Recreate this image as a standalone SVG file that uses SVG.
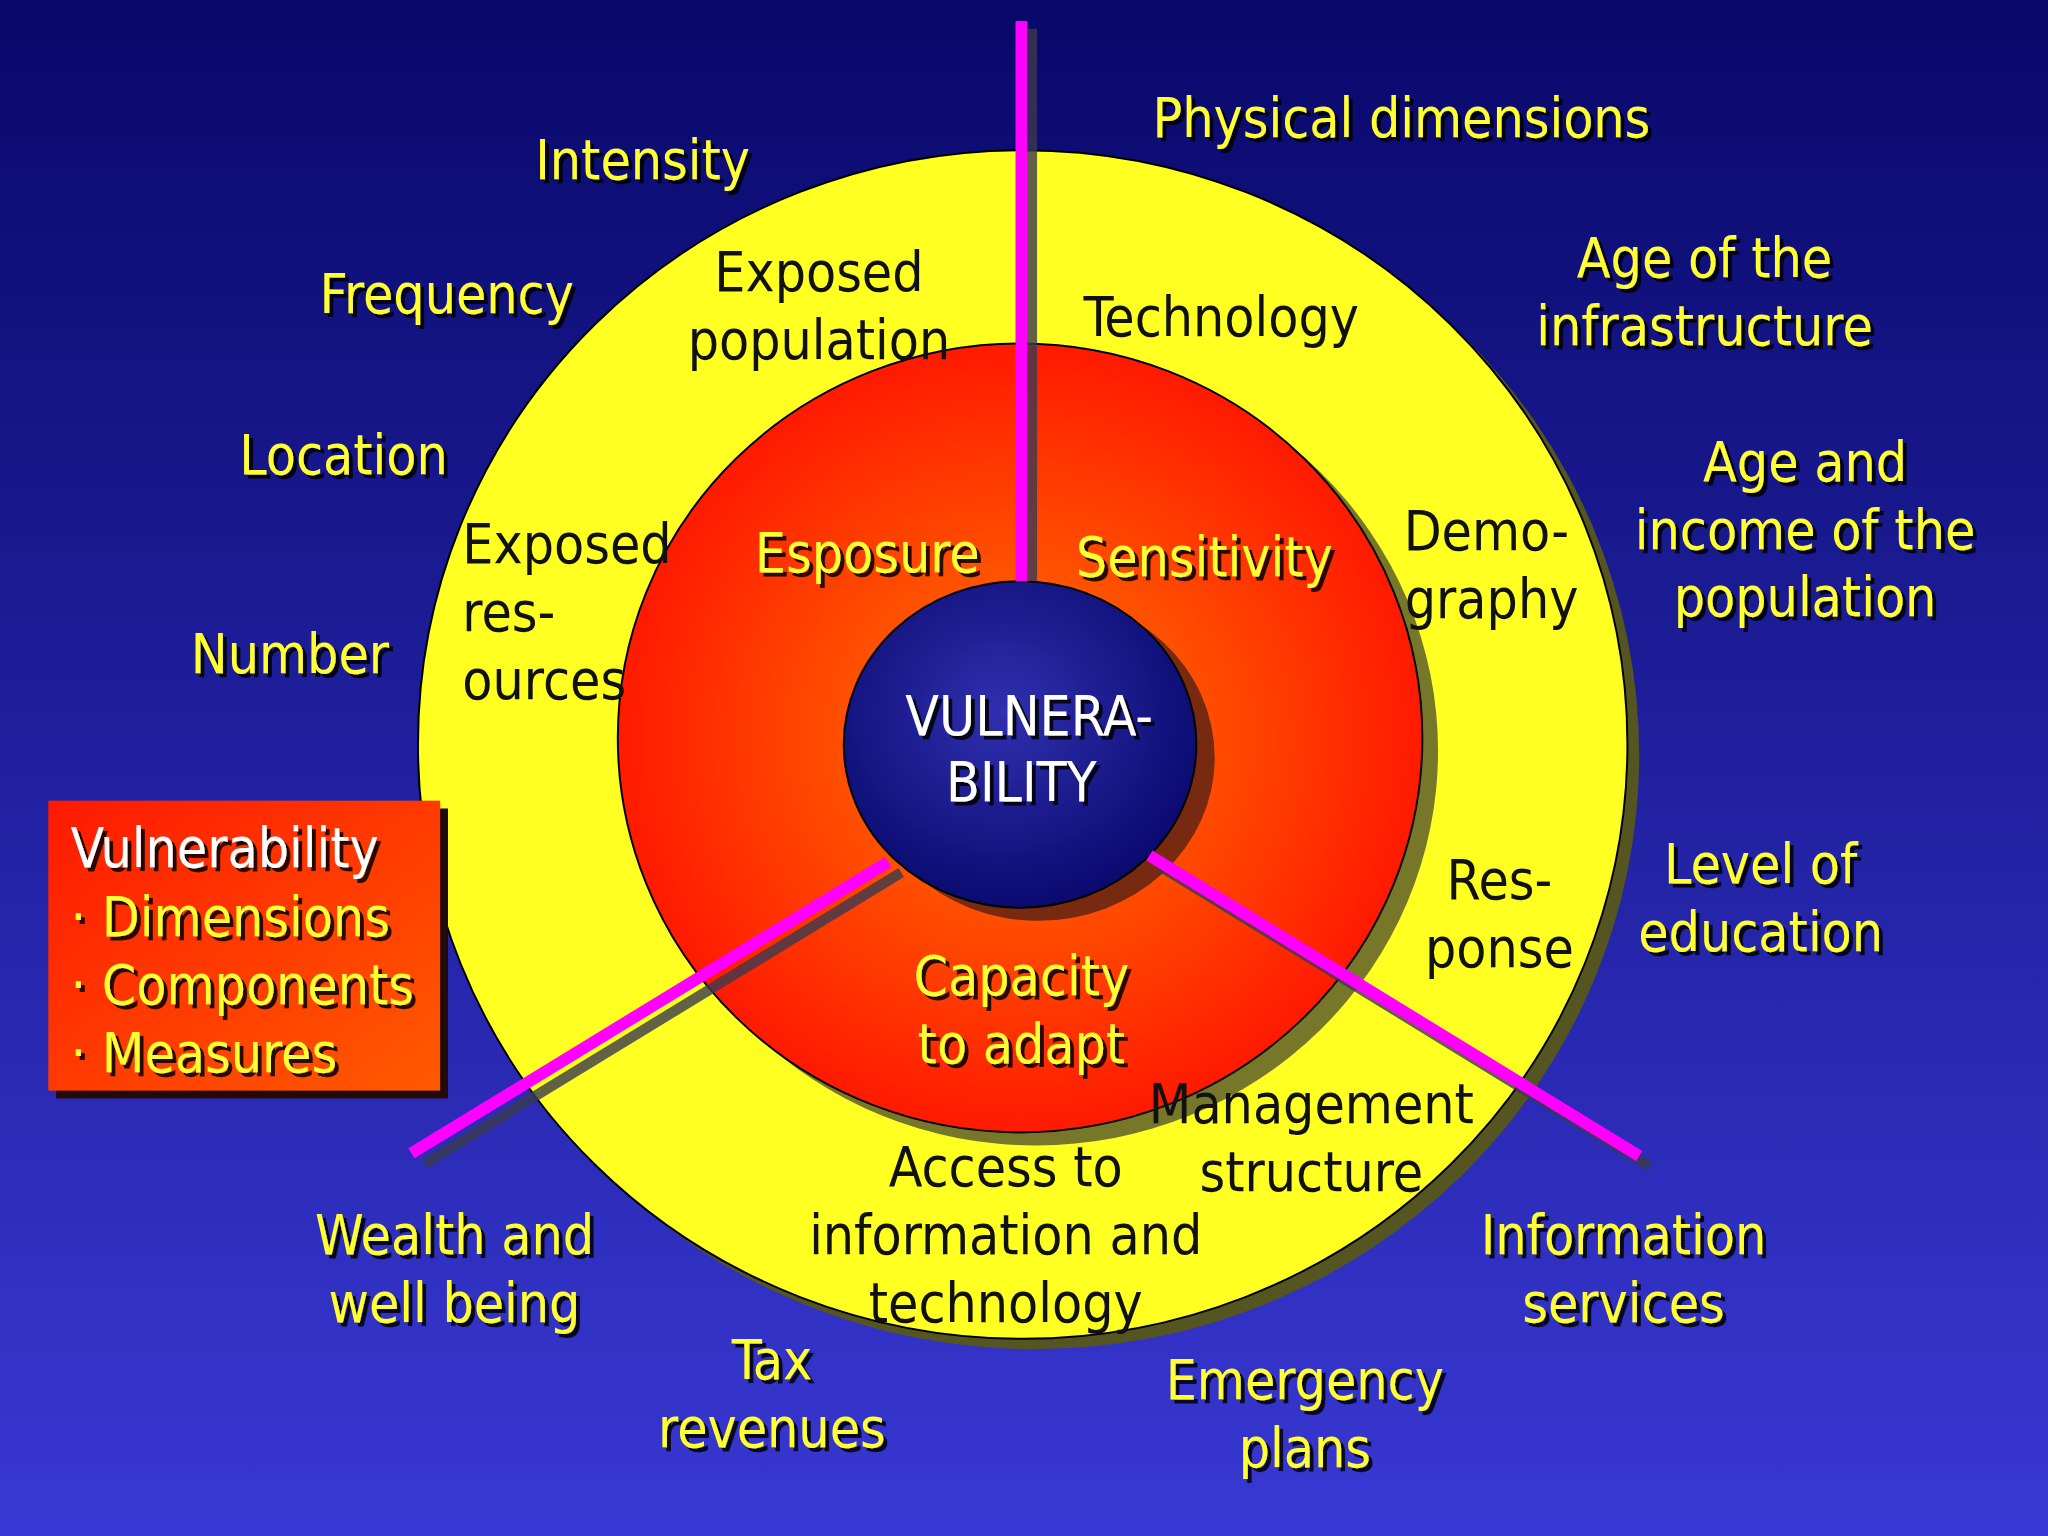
<svg xmlns="http://www.w3.org/2000/svg" width="2048" height="1536" viewBox="0 0 2048 1536">
<defs>
<linearGradient id="bg" x1="0" y1="0" x2="0" y2="1"><stop offset="0" stop-color="#08086a"/><stop offset="1" stop-color="#3838d4"/></linearGradient>
<radialGradient id="red" cx="0.5" cy="0.5" r="0.5"><stop offset="0" stop-color="#ff7a00"/><stop offset="1" stop-color="#ff1a00"/></radialGradient>
<radialGradient id="blue" cx="0.45" cy="0.4" r="0.6"><stop offset="0" stop-color="#3030b0"/><stop offset="1" stop-color="#0a0a70"/></radialGradient>
<linearGradient id="box" x1="0" y1="0" x2="1" y2="1"><stop offset="0" stop-color="#ff1a00"/><stop offset="1" stop-color="#ff5a00"/></linearGradient>
<filter id="sh" x="-10%" y="-10%" width="130%" height="130%"><feDropShadow dx="3" dy="3" stdDeviation="0" flood-color="#000" flood-opacity="0.85"/></filter>
</defs>
<style>
text{font-family:"DejaVu Sans Condensed","DejaVu Sans",sans-serif;font-size:42px;text-anchor:middle}
.y{fill:#ffff33;filter:url(#sh)}
.k{fill:#111}
.w{fill:#fff;filter:url(#sh)}
.ln{stroke:#ff00ff;stroke-width:9}
.lsh{stroke:#3a3a50;stroke-width:8;opacity:0.8}
</style>
<rect width="2048" height="1536" fill="url(#bg)"/>
<g transform="scale(1.30612)">
<g id="rings">
<ellipse cx="792" cy="578" rx="463" ry="455" fill="#555522"/>
<ellipse cx="783" cy="570" rx="463" ry="455" fill="#ffff22" stroke="#000" stroke-width="1.5"/>
<ellipse cx="793" cy="575" rx="308" ry="302" fill="#77772a"/>
<ellipse cx="781" cy="565" rx="308" ry="302" fill="url(#red)" stroke="#000" stroke-width="1.5"/>
<ellipse cx="795" cy="580" rx="135" ry="125" fill="#772a10"/>
<ellipse cx="781" cy="570" rx="135" ry="125" fill="url(#blue)" stroke="#000" stroke-width="1.5"/>
</g>
<g id="connectors">
<line class="lsh" x1="790" y1="22" x2="790" y2="445"/>
<line class="ln" x1="782" y1="16" x2="782" y2="445"/>
<line class="lsh" x1="690" y1="668" x2="325" y2="891"/>
<line class="ln" x1="680" y1="660" x2="315" y2="883"/>
<line class="lsh" x1="888" y1="663" x2="1263" y2="893"/>
<line class="ln" x1="880" y1="655" x2="1255" y2="885"/>
</g>
<g id="legend">
<rect x="43" y="619" width="300" height="222" fill="#220a0a"/>
<rect x="37" y="613" width="300" height="222" fill="url(#box)"/>
<text class="w" x="54" y="664" style="text-anchor:start">Vulnerability</text>
<text class="y" x="54" y="717" style="text-anchor:start">· Dimensions</text>
<text class="y" x="54" y="769" style="text-anchor:start">· Components</text>
<text class="y" x="54" y="821" style="text-anchor:start">· Measures</text>
</g>
<g id="center"><text class="w" x="788" y="563">VULNERA-</text><text class="w" x="782" y="613">BILITY</text></g>
<g id="components">
<text class="y" x="664" y="438">Esposure</text>
<text class="y" x="922" y="441">Sensitivity</text>
<text class="y" x="782" y="762">Capacity</text>
<text class="y" x="782" y="814">to adapt</text>
</g>
<g id="measures-inner">
<text class="k" x="627" y="223">Exposed</text><text class="k" x="627" y="275">population</text>
<text class="k" x="935" y="257">Technology</text>
<text class="k" x="354" y="431" style="text-anchor:start">Exposed</text>
<text class="k" x="354" y="483" style="text-anchor:start">res-</text>
<text class="k" x="354" y="535" style="text-anchor:start">ources</text>
<text class="k" x="1138" y="421">Demo-</text><text class="k" x="1142" y="473">graphy</text>
<text class="k" x="1148" y="688">Res-</text><text class="k" x="1148" y="740">ponse</text>
<text class="k" x="1004" y="860">Management</text><text class="k" x="1004" y="912">structure</text>
<text class="k" x="770" y="908">Access to</text><text class="k" x="770" y="960">information and</text><text class="k" x="770" y="1012">technology</text>
</g>
<g id="measures-outer">
<text class="y" x="492" y="137">Intensity</text>
<text class="y" x="342" y="240">Frequency</text>
<text class="y" x="263" y="363">Location</text>
<text class="y" x="222" y="515">Number</text>
<text class="y" x="1073" y="105">Physical dimensions</text>
<text class="y" x="1305" y="212">Age of the</text><text class="y" x="1305" y="264">infrastructure</text>
<text class="y" x="1382" y="368">Age and</text><text class="y" x="1382" y="420">income of the</text><text class="y" x="1382" y="472">population</text>
<text class="y" x="1348" y="676">Level of</text><text class="y" x="1348" y="728">education</text>
<text class="y" x="1243" y="960">Information</text><text class="y" x="1243" y="1012">services</text>
<text class="y" x="999" y="1071">Emergency</text><text class="y" x="999" y="1123">plans</text>
<text class="y" x="591" y="1056">Tax</text><text class="y" x="591" y="1108">revenues</text>
<text class="y" x="348" y="960">Wealth and</text><text class="y" x="348" y="1012">well being</text>
</g>
</g>
</svg>
